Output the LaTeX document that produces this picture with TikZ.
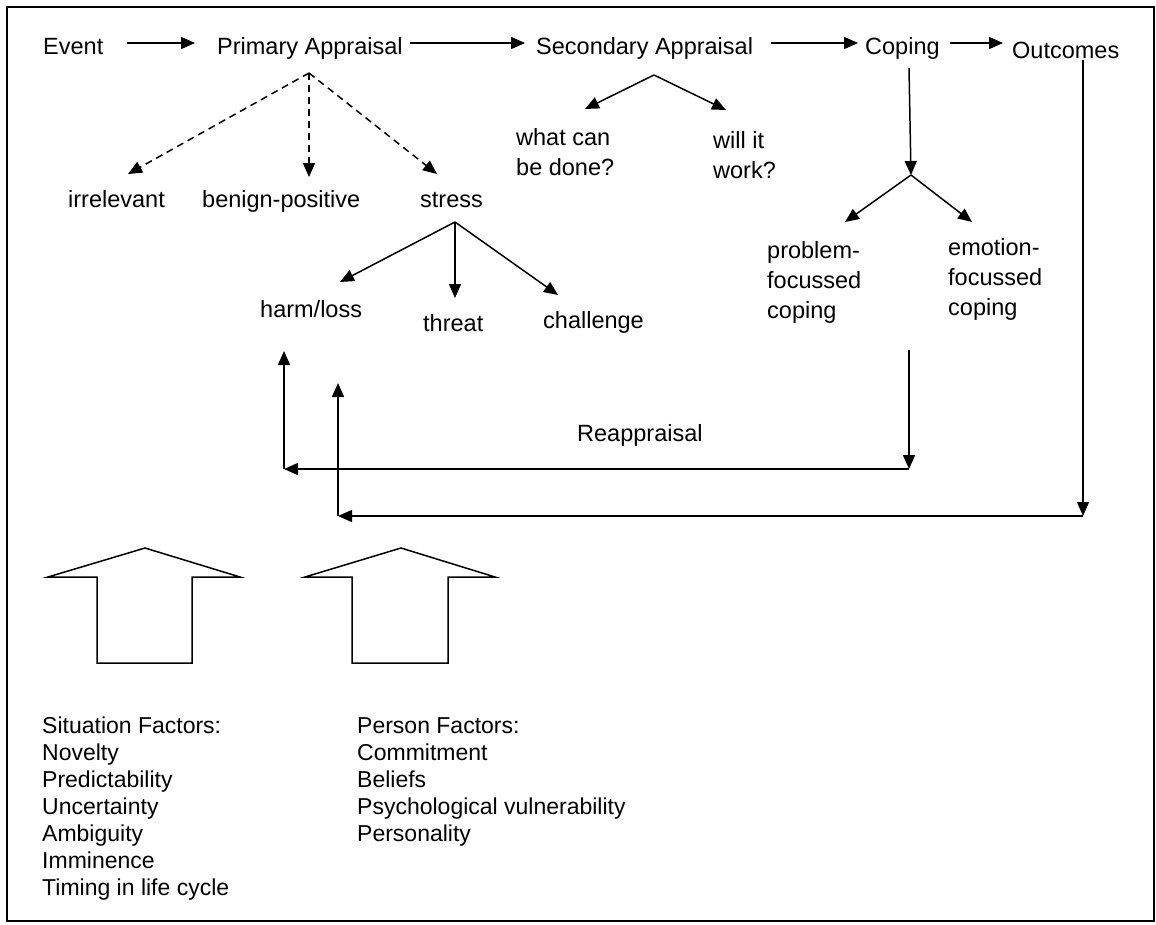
\documentclass[tikz,border=0pt]{standalone}
\usepackage{fontspec}
\setmainfont{Liberation Sans}
\usetikzlibrary{arrows.meta}
\begin{document}
\begin{tikzpicture}[x=1pt,y=-1pt,
  lbl/.style={anchor=base west,inner sep=0pt,align=left,font=\fontsize{23.5}{30}\selectfont},
  lst/.style={anchor=base west,inner sep=0pt,align=left,font=\fontsize{23}{27}\selectfont},
  arr/.style={line width=1.5pt,-{Triangle[length=14pt,width=12pt]}},
  dsh/.style={arr,dash pattern=on 7pt off 5pt},
  blk/.style={line width=1.5pt,line join=miter}]
\useasboundingbox (0,0) rectangle (1156,924);
\draw[line width=1.4pt] (7,7) rectangle (1154,921);
% top row
\node[lbl] (ev) at (43,54) {Event};
\node[lbl] (pa) at (217,54) {Primary Appraisal};
\node[lbl] (sa) at (536,54) {Secondary Appraisal};
\node[lbl] (cp) at (865,54) {Coping};
\node[lbl] (oc) at (1012,58) {Outcomes};
\draw[arr] ([xshift=24pt,yshift=11pt]ev.base east) -- ([xshift=-22pt,yshift=11pt]pa.base west);
\draw[arr] ([xshift=7pt,yshift=11pt]pa.base east) -- ([xshift=-11pt,yshift=11pt]sa.base west);
\draw[arr] ([xshift=18pt,yshift=11pt]sa.base east) -- ([xshift=-7pt,yshift=11pt]cp.base west);
\draw[arr] ([xshift=10pt,yshift=11pt]cp.base east) -- ([xshift=-9pt,yshift=15pt]oc.base west);
% primary appraisal branches
\node[lbl] (irr) at (68,207) {irrelevant};
\node[lbl] (ben) at (202,207) {benign-positive};
\node[lbl] (str) at (420,207) {stress};
\coordinate (pap) at (309,73);
\coordinate (t-irr) at (128,174);
\coordinate (t-ben) at (309,177);
\coordinate (t-str) at (437,174);
\draw[dsh] (pap) -- (t-irr);
\draw[dsh] (pap) -- (t-ben);
\draw[dsh] (pap) -- (t-str);
% stress branches
\node[lbl] (harm) at (260,317) {harm/loss};
\node[lbl] (thr) at (423,331) {threat};
\node[lbl] (cha) at (543,328) {challenge};
\coordinate (sap) at (455,222);
\coordinate (t-harm) at (340,282);
\coordinate (t-thr) at (455,298);
\coordinate (t-cha) at (558,295);
\draw[arr] (sap) -- (t-harm);
\draw[arr] (sap) -- (t-thr);
\draw[arr] (sap) -- (t-cha);
% secondary appraisal branches (base = last line)
\node[lbl] (wc) at (516,175) {what can\\be done?};
\node[lbl] (wi) at (713,178) {will it\\work?};
\coordinate (sec) at (654,75);
\coordinate (t-wc) at (585,109);
\coordinate (t-wi) at (726,110);
\draw[arr] (sec) -- (t-wc);
\draw[arr] (sec) -- (t-wi);
% coping branches
\node[lbl] (pf) at (767,318) {problem-\\focussed\\coping};
\node[lbl] (ef) at (948,315) {emotion-\\focussed\\coping};
\coordinate (cpt) at (909,68);
\coordinate (fork) at (911,175);
\coordinate (t-pf) at (845,222);
\coordinate (t-ef) at (972,222);
\draw[arr] (cpt) -- (fork);
\draw[arr] (fork) -- (t-pf);
\draw[arr] (fork) -- (t-ef);
% reappraisal loop
\node[lbl] (re) at (577,441) {Reappraisal};
\coordinate (r1) at (909,350);
\coordinate (r2) at (909,469);
\coordinate (r3) at (284,469);
\coordinate (r4) at (284,351);
\draw[arr] (r1) -- (r2);
\draw[arr] (r2) -- (r3);
\draw[arr] (r3) -- (r4);
% outcomes loop
\coordinate (o1) at (1083,60);
\coordinate (o2) at (1083,516);
\coordinate (o3) at (338,516);
\coordinate (o4) at (338,383);
\draw[arr] (o1) -- (o2);
\draw[arr] (o2) -- (o3);
\draw[arr] (o3) -- (o4);
% block arrows
\draw[blk] (48,577) -- (145,548) -- (240,577) -- (192,577) -- (192,663) -- (97,663) -- (97,577) -- cycle;
\draw[blk] (305,577) -- (401,548) -- (495,577) -- (448,577) -- (448,663) -- (352,663) -- (352,577) -- cycle;
% factor lists (base = last line)
\node[lst] (sf) at (42,895) {Situation Factors:\\Novelty\\Predictability\\Uncertainty\\Ambiguity\\Imminence\\Timing in life cycle};
\node[lst] (pf2) at (357,841) {Person Factors:\\Commitment\\Beliefs\\Psychological vulnerability\\Personality};
\end{tikzpicture}
\end{document}
